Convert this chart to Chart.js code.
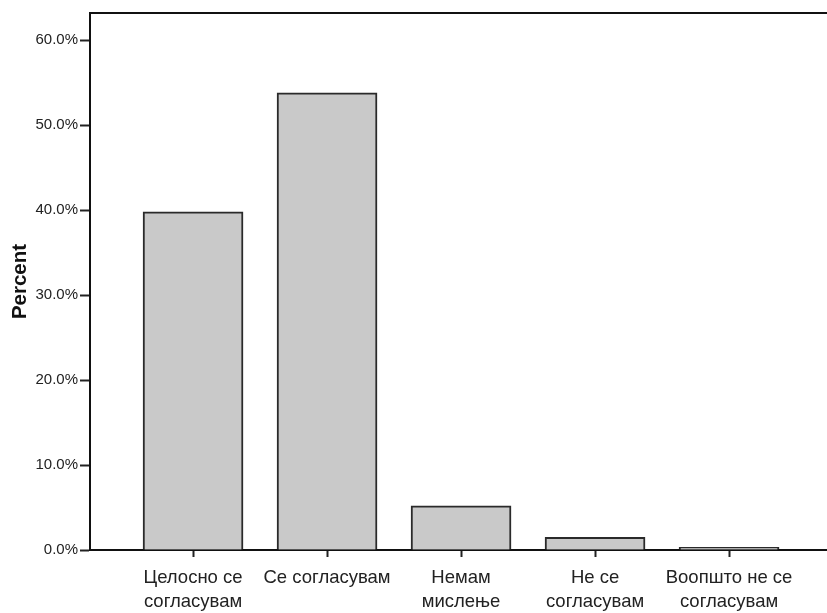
<!DOCTYPE html>
<html>
<head>
<meta charset="utf-8">
<script src="https://cdn.jsdelivr.net/npm/chart.js@4/dist/chart.umd.min.js"></script>
<style>
html,body{margin:0;padding:0;background:#fff;}
#wrap{width:827px;height:613px;position:relative;}
</style>
</head>
<body>
<div id="wrap"><canvas id="c" width="827" height="613"></canvas></div>
<script>
const categories = [
  ["Целосно се", "согласувам"],
  ["Се согласувам"],
  ["Немам", "мислење"],
  ["Не се", "согласувам"],
  ["Воопшто не се", "согласувам"]
];
const percentValues = [39.8, 53.8, 5.2, 1.5, 0.3];
const yTickValues = [0, 10, 20, 30, 40, 50, 60];

const topFrame = {
  id: 'topFrame',
  afterDraw(chart) {
    const {ctx, chartArea} = chart;
    ctx.save();
    ctx.strokeStyle = '#111';
    ctx.lineWidth = 2;
    ctx.beginPath();
    ctx.moveTo(chartArea.left - 1, chartArea.top);
    ctx.lineTo(chartArea.right, chartArea.top);
    ctx.stroke();
    ctx.restore();
  }
};

new Chart(document.getElementById('c'), {
  type: 'bar',
  data: {
    datasets: [{
      data: percentValues.map((v, i) => ({x: i, y: v})),
      backgroundColor: '#c9c9c9',
      borderColor: '#2a2a2a',
      borderWidth: 2,
      barThickness: 100
    }]
  },
  plugins: [topFrame],
  options: {
    responsive: false,
    animation: false,
    layout: {padding: {top: 13, right: 0, left: 0, bottom: 0}},
    plugins: {legend: {display: false}, tooltip: {enabled: false}},
    scales: {
      x: {
        type: 'linear',
        offset: false,
        min: -0.769,
        max: 4.731,
        afterBuildTicks: (axis) => { axis.ticks = categories.map((_, i) => ({value: i})); },
        afterFit: (axis) => { axis.height = 63; },
        grid: {display: true, offset: false, drawOnChartArea: false, tickLength: 7, tickColor: '#222', tickWidth: 2},
        border: {display: true, color: '#111', width: 2},
        ticks: {
          autoSkip: false,
          maxRotation: 0,
          padding: 9,
          color: '#222',
          font: {family: 'Liberation Sans, Arial, sans-serif', size: 18.5, lineHeight: 1.28},
          callback: (v) => categories[v] || ''
        }
      },
      y: {
        min: 0,
        max: 63.2,
        afterBuildTicks: (axis) => { axis.ticks = yTickValues.map(v => ({value: v})); },
        afterFit: (axis) => { axis.width = 90; },
        grid: {display: true, drawOnChartArea: false, tickLength: 10, tickColor: '#222', tickWidth: 2},
        border: {display: true, color: '#111', width: 2},
        title: {
          display: true,
          text: 'Percent',
          color: '#111',
          font: {family: 'Liberation Sans, Arial, sans-serif', size: 20.5, weight: 'bold'},
          padding: {top: 8, bottom: 0}
        },
        ticks: {
          padding: 2,
          color: '#222',
          font: {family: 'Liberation Sans, Arial, sans-serif', size: 15},
          callback: (v) => v.toFixed(1) + '%'
        }
      }
    }
  }
});
</script>
</body>
</html>
